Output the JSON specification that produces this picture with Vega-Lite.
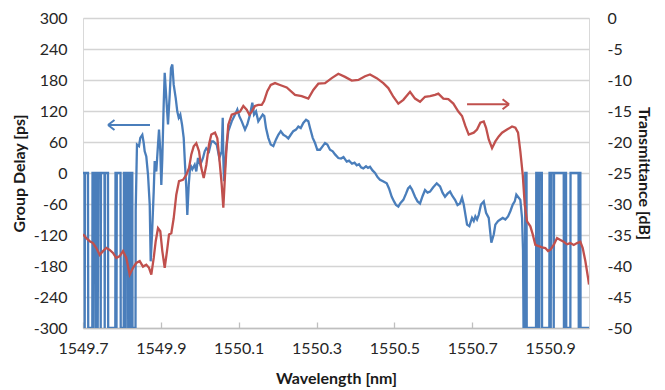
{
  "$schema": "https://vega.github.io/schema/vega-lite/v6.json",
  "width": 506,
  "height": 310,
  "autosize": {"type": "none"},
  "padding": {"left": 83, "top": 18, "right": 76, "bottom": 62},
  "background": "white",
  "config": {
    "font": "Lato",
    "view": {"stroke": "#d9d9d9", "strokeWidth": 1},
    "axis": {"labelFontSize": 16, "titleFontSize": 16, "titleFontWeight": "bold", "labelColor": "#262626", "titleColor": "#1a1a1a", "labelFlush": false, "labelOverlap": false, "labelExpr": "replace(datum.label, '−', '-')"}
  },
  "datasets": {
    "delay": [
      {"wl": 1549.7000, "gd": 0}, {"wl": 1549.7039, "gd": 0}, {"wl": 1549.7044, "gd": -300}, {"wl": 1549.7051, "gd": 0},
      {"wl": 1549.7128, "gd": 0}, {"wl": 1549.7134, "gd": -300}, {"wl": 1549.7239, "gd": -300}, {"wl": 1549.7244, "gd": 0},
      {"wl": 1549.7257, "gd": 0}, {"wl": 1549.7262, "gd": -300}, {"wl": 1549.7272, "gd": 0}, {"wl": 1549.7321, "gd": 0},
      {"wl": 1549.7326, "gd": -300}, {"wl": 1549.7334, "gd": 0}, {"wl": 1549.7373, "gd": 0}, {"wl": 1549.7378, "gd": -300},
      {"wl": 1549.7391, "gd": 0}, {"wl": 1549.7450, "gd": 0}, {"wl": 1549.7455, "gd": -300}, {"wl": 1549.7462, "gd": 0},
      {"wl": 1549.7552, "gd": 0}, {"wl": 1549.7558, "gd": -300}, {"wl": 1549.7565, "gd": 0}, {"wl": 1549.7642, "gd": 0},
      {"wl": 1549.7647, "gd": -300}, {"wl": 1549.7830, "gd": -300}, {"wl": 1549.7835, "gd": 0}, {"wl": 1549.7856, "gd": 0},
      {"wl": 1549.7861, "gd": -300}, {"wl": 1549.7868, "gd": 0}, {"wl": 1549.7964, "gd": 0}, {"wl": 1549.7969, "gd": -300},
      {"wl": 1549.8046, "gd": -300}, {"wl": 1549.8051, "gd": 0}, {"wl": 1549.8092, "gd": 0}, {"wl": 1549.8097, "gd": -300},
      {"wl": 1549.8105, "gd": 0}, {"wl": 1549.8156, "gd": 0}, {"wl": 1549.8161, "gd": -300}, {"wl": 1549.8169, "gd": 0},
      {"wl": 1549.8215, "gd": 0}, {"wl": 1549.8220, "gd": -300}, {"wl": 1549.8228, "gd": 0}, {"wl": 1549.8267, "gd": 0},
      {"wl": 1549.8272, "gd": -300}, {"wl": 1549.8349, "gd": -300},
      {"wl": 1549.8354, "gd": -71}, {"wl": 1549.8387, "gd": 55}, {"wl": 1549.8439, "gd": 52}, {"wl": 1549.8472, "gd": 68},
      {"wl": 1549.8524, "gd": 74}, {"wl": 1549.8560, "gd": 58}, {"wl": 1549.8585, "gd": 42}, {"wl": 1549.8626, "gd": 32},
      {"wl": 1549.8670, "gd": -3}, {"wl": 1549.8714, "gd": -61}, {"wl": 1549.8739, "gd": -171}, {"wl": 1549.8773, "gd": -119},
      {"wl": 1549.8817, "gd": -35}, {"wl": 1549.8842, "gd": 23}, {"wl": 1549.8883, "gd": 3}, {"wl": 1549.8927, "gd": 55},
      {"wl": 1549.8953, "gd": 84}, {"wl": 1549.8986, "gd": 42}, {"wl": 1549.9012, "gd": -23}, {"wl": 1549.9038, "gd": 29},
      {"wl": 1549.9073, "gd": 132}, {"wl": 1549.9099, "gd": 194}, {"wl": 1549.9140, "gd": 145}, {"wl": 1549.9184, "gd": 94},
      {"wl": 1549.9228, "gd": 152}, {"wl": 1549.9261, "gd": 203}, {"wl": 1549.9295, "gd": 210}, {"wl": 1549.9330, "gd": 171},
      {"wl": 1549.9382, "gd": 145}, {"wl": 1549.9423, "gd": 119}, {"wl": 1549.9459, "gd": 107}, {"wl": 1549.9500, "gd": 113},
      {"wl": 1549.9544, "gd": 94}, {"wl": 1549.9587, "gd": 68}, {"wl": 1549.9621, "gd": 16}, {"wl": 1549.9654, "gd": -29},
      {"wl": 1549.9680, "gd": -81}, {"wl": 1549.9716, "gd": -23}, {"wl": 1549.9757, "gd": 16}, {"wl": 1549.9808, "gd": 7},
      {"wl": 1549.9870, "gd": 16}, {"wl": 1549.9911, "gd": 3}, {"wl": 1549.9955, "gd": 29}, {"wl": 1550.0014, "gd": 16},
      {"wl": 1550.0083, "gd": 29}, {"wl": 1550.0127, "gd": 42}, {"wl": 1550.0168, "gd": 48}, {"wl": 1550.0237, "gd": 42},
      {"wl": 1550.0297, "gd": 61}, {"wl": 1550.0348, "gd": 61}, {"wl": 1550.0435, "gd": 55}, {"wl": 1550.0502, "gd": 29},
      {"wl": 1550.0564, "gd": 42}, {"wl": 1550.0590, "gd": 107}, {"wl": 1550.0605, "gd": 29}, {"wl": 1550.0623, "gd": -16},
      {"wl": 1550.0674, "gd": 42}, {"wl": 1550.0733, "gd": 81}, {"wl": 1550.0821, "gd": 100}, {"wl": 1550.0906, "gd": 113},
      {"wl": 1550.0965, "gd": 123}, {"wl": 1550.1016, "gd": 110}, {"wl": 1550.1078, "gd": 100}, {"wl": 1550.1162, "gd": 84},
      {"wl": 1550.1222, "gd": 94}, {"wl": 1550.1291, "gd": 113}, {"wl": 1550.1350, "gd": 136}, {"wl": 1550.1394, "gd": 113},
      {"wl": 1550.1445, "gd": 119}, {"wl": 1550.1504, "gd": 100}, {"wl": 1550.1566, "gd": 107}, {"wl": 1550.1617, "gd": 113},
      {"wl": 1550.1658, "gd": 110}, {"wl": 1550.1702, "gd": 87}, {"wl": 1550.1761, "gd": 68}, {"wl": 1550.1823, "gd": 55},
      {"wl": 1550.1890, "gd": 52}, {"wl": 1550.1959, "gd": 65}, {"wl": 1550.2018, "gd": 74}, {"wl": 1550.2080, "gd": 81},
      {"wl": 1550.2147, "gd": 74}, {"wl": 1550.2216, "gd": 71}, {"wl": 1550.2275, "gd": 67}, {"wl": 1550.2337, "gd": 74},
      {"wl": 1550.2403, "gd": 81}, {"wl": 1550.2473, "gd": 84}, {"wl": 1550.2532, "gd": 90}, {"wl": 1550.2594, "gd": 87},
      {"wl": 1550.2660, "gd": 97}, {"wl": 1550.2730, "gd": 103}, {"wl": 1550.2789, "gd": 100}, {"wl": 1550.2833, "gd": 87},
      {"wl": 1550.2902, "gd": 68}, {"wl": 1550.2961, "gd": 58}, {"wl": 1550.3020, "gd": 45}, {"wl": 1550.3089, "gd": 45},
      {"wl": 1550.3159, "gd": 52}, {"wl": 1550.3218, "gd": 58}, {"wl": 1550.3277, "gd": 55}, {"wl": 1550.3346, "gd": 45},
      {"wl": 1550.3416, "gd": 42}, {"wl": 1550.3475, "gd": 36}, {"wl": 1550.3560, "gd": 29}, {"wl": 1550.3629, "gd": 28},
      {"wl": 1550.3693, "gd": 31}, {"wl": 1550.3776, "gd": 22}, {"wl": 1550.3835, "gd": 24}, {"wl": 1550.3912, "gd": 18},
      {"wl": 1550.3976, "gd": 20}, {"wl": 1550.4033, "gd": 15}, {"wl": 1550.4092, "gd": 17}, {"wl": 1550.4143, "gd": 11},
      {"wl": 1550.4202, "gd": 9}, {"wl": 1550.4271, "gd": 13}, {"wl": 1550.4323, "gd": 10}, {"wl": 1550.4374, "gd": 12},
      {"wl": 1550.4438, "gd": 5}, {"wl": 1550.4503, "gd": 0}, {"wl": 1550.4567, "gd": -8}, {"wl": 1550.4631, "gd": -13},
      {"wl": 1550.4708, "gd": -16}, {"wl": 1550.4803, "gd": -20}, {"wl": 1550.4862, "gd": -30}, {"wl": 1550.4932, "gd": -46},
      {"wl": 1550.4991, "gd": -55}, {"wl": 1550.5042, "gd": -62}, {"wl": 1550.5101, "gd": -65}, {"wl": 1550.5158, "gd": -58},
      {"wl": 1550.5230, "gd": -52}, {"wl": 1550.5299, "gd": -40}, {"wl": 1550.5351, "gd": -30}, {"wl": 1550.5402, "gd": -26},
      {"wl": 1550.5453, "gd": -32}, {"wl": 1550.5530, "gd": -46}, {"wl": 1550.5595, "gd": -55}, {"wl": 1550.5659, "gd": -59},
      {"wl": 1550.5723, "gd": -45}, {"wl": 1550.5787, "gd": -33}, {"wl": 1550.5852, "gd": -38}, {"wl": 1550.5916, "gd": -36},
      {"wl": 1550.5993, "gd": -28}, {"wl": 1550.6088, "gd": -20}, {"wl": 1550.6173, "gd": -26}, {"wl": 1550.6237, "gd": -38},
      {"wl": 1550.6301, "gd": -46}, {"wl": 1550.6366, "gd": -40}, {"wl": 1550.6430, "gd": -36}, {"wl": 1550.6494, "gd": -45},
      {"wl": 1550.6558, "gd": -52}, {"wl": 1550.6622, "gd": -62}, {"wl": 1550.6687, "gd": -59}, {"wl": 1550.6738, "gd": -48},
      {"wl": 1550.6782, "gd": -61}, {"wl": 1550.6867, "gd": -100}, {"wl": 1550.6926, "gd": -103}, {"wl": 1550.6995, "gd": -87},
      {"wl": 1550.7039, "gd": -93}, {"wl": 1550.7080, "gd": -84}, {"wl": 1550.7123, "gd": -90}, {"wl": 1550.7167, "gd": -81},
      {"wl": 1550.7226, "gd": -61}, {"wl": 1550.7296, "gd": -55}, {"wl": 1550.7355, "gd": -77}, {"wl": 1550.7424, "gd": -87},
      {"wl": 1550.7491, "gd": -135}, {"wl": 1550.7553, "gd": -119}, {"wl": 1550.7594, "gd": -100}, {"wl": 1550.7663, "gd": -93},
      {"wl": 1550.7722, "gd": -90}, {"wl": 1550.7784, "gd": -87}, {"wl": 1550.7851, "gd": -90}, {"wl": 1550.7920, "gd": -84},
      {"wl": 1550.7979, "gd": -74}, {"wl": 1550.8041, "gd": -61}, {"wl": 1550.8092, "gd": -55}, {"wl": 1550.8133, "gd": -42},
      {"wl": 1550.8195, "gd": -48}, {"wl": 1550.8236, "gd": -52}, {"wl": 1550.8280, "gd": -87}, {"wl": 1550.8305, "gd": -150},
      {"wl": 1550.8318, "gd": -300}, {"wl": 1550.8357, "gd": -300}, {"wl": 1550.8362, "gd": 0}, {"wl": 1550.8395, "gd": 0},
      {"wl": 1550.8400, "gd": -300}, {"wl": 1550.8639, "gd": -300}, {"wl": 1550.8645, "gd": 0}, {"wl": 1550.8678, "gd": 0},
      {"wl": 1550.8683, "gd": -300}, {"wl": 1550.8691, "gd": 0}, {"wl": 1550.8717, "gd": 0}, {"wl": 1550.8722, "gd": -300},
      {"wl": 1550.8729, "gd": 0}, {"wl": 1550.8788, "gd": 0}, {"wl": 1550.8794, "gd": -300}, {"wl": 1550.8981, "gd": -300},
      {"wl": 1550.8986, "gd": 0}, {"wl": 1550.9012, "gd": 0}, {"wl": 1550.9017, "gd": -300}, {"wl": 1550.9025, "gd": 0},
      {"wl": 1550.9089, "gd": 0}, {"wl": 1550.9094, "gd": -300}, {"wl": 1550.9102, "gd": 0}, {"wl": 1550.9351, "gd": 0},
      {"wl": 1550.9356, "gd": -300}, {"wl": 1550.9364, "gd": 0}, {"wl": 1550.9410, "gd": 0}, {"wl": 1550.9415, "gd": -300},
      {"wl": 1550.9521, "gd": -300}, {"wl": 1550.9526, "gd": 0}, {"wl": 1550.9731, "gd": 0}, {"wl": 1550.9737, "gd": -300},
      {"wl": 1550.9744, "gd": 0}, {"wl": 1550.9778, "gd": 0}, {"wl": 1550.9783, "gd": -300}, {"wl": 1551.0000, "gd": -300}
    ],
    "trans": [
      {"wl": 1549.7000, "t": -34.9}, {"wl": 1549.7085, "t": -35.5}, {"wl": 1549.7172, "t": -36.0}, {"wl": 1549.7257, "t": -36.3},
      {"wl": 1549.7342, "t": -37.1}, {"wl": 1549.7429, "t": -38.2}, {"wl": 1549.7514, "t": -37.6}, {"wl": 1549.7599, "t": -37.1},
      {"wl": 1549.7686, "t": -37.4}, {"wl": 1549.7771, "t": -37.9}, {"wl": 1549.7856, "t": -38.7}, {"wl": 1549.7943, "t": -38.4},
      {"wl": 1549.8028, "t": -37.6}, {"wl": 1549.8113, "t": -38.7}, {"wl": 1549.8200, "t": -41.4}, {"wl": 1549.8285, "t": -40.3},
      {"wl": 1549.8369, "t": -39.5}, {"wl": 1549.8457, "t": -39.2}, {"wl": 1549.8542, "t": -40.1}, {"wl": 1549.8626, "t": -39.8},
      {"wl": 1549.8696, "t": -40.3}, {"wl": 1549.8755, "t": -41.4}, {"wl": 1549.8817, "t": -38.7}, {"wl": 1549.8868, "t": -36.0},
      {"wl": 1549.8927, "t": -33.9}, {"wl": 1549.8986, "t": -34.4}, {"wl": 1549.9038, "t": -37.6}, {"wl": 1549.9099, "t": -40.3},
      {"wl": 1549.9158, "t": -37.6}, {"wl": 1549.9210, "t": -34.9}, {"wl": 1549.9269, "t": -34.7}, {"wl": 1549.9330, "t": -32.3},
      {"wl": 1549.9397, "t": -28.5}, {"wl": 1549.9467, "t": -26.3}, {"wl": 1549.9569, "t": -26.1}, {"wl": 1549.9654, "t": -25.3},
      {"wl": 1549.9724, "t": -24.2}, {"wl": 1549.9783, "t": -22.0}, {"wl": 1549.9844, "t": -20.7}, {"wl": 1549.9911, "t": -20.2},
      {"wl": 1549.9981, "t": -21.5}, {"wl": 1550.0040, "t": -24.2}, {"wl": 1550.0101, "t": -25.8}, {"wl": 1550.0168, "t": -23.7},
      {"wl": 1550.0237, "t": -20.4}, {"wl": 1550.0297, "t": -18.8}, {"wl": 1550.0392, "t": -18.5}, {"wl": 1550.0451, "t": -19.4},
      {"wl": 1550.0502, "t": -22.6}, {"wl": 1550.0564, "t": -26.9}, {"wl": 1550.0605, "t": -30.6}, {"wl": 1550.0649, "t": -25.3},
      {"wl": 1550.0692, "t": -20.4}, {"wl": 1550.0733, "t": -17.2}, {"wl": 1550.0821, "t": -15.6}, {"wl": 1550.0949, "t": -15.3},
      {"wl": 1550.1034, "t": -15.1}, {"wl": 1550.1119, "t": -14.2}, {"wl": 1550.1206, "t": -14.8}, {"wl": 1550.1273, "t": -15.6},
      {"wl": 1550.1335, "t": -15.1}, {"wl": 1550.1419, "t": -14.2}, {"wl": 1550.1504, "t": -14.0}, {"wl": 1550.1592, "t": -14.0},
      {"wl": 1550.1651, "t": -13.4}, {"wl": 1550.1735, "t": -11.8}, {"wl": 1550.1823, "t": -10.8}, {"wl": 1550.1933, "t": -10.5},
      {"wl": 1550.2062, "t": -10.8}, {"wl": 1550.2234, "t": -11.2}, {"wl": 1550.2447, "t": -12.4}, {"wl": 1550.2619, "t": -12.6},
      {"wl": 1550.2789, "t": -13.0}, {"wl": 1550.2917, "t": -11.6}, {"wl": 1550.3046, "t": -10.6}, {"wl": 1550.3218, "t": -10.5},
      {"wl": 1550.3390, "t": -9.7}, {"wl": 1550.3560, "t": -9.0}, {"wl": 1550.3732, "t": -9.5}, {"wl": 1550.3904, "t": -10.1},
      {"wl": 1550.4074, "t": -10.0}, {"wl": 1550.4246, "t": -9.4}, {"wl": 1550.4374, "t": -9.1}, {"wl": 1550.4546, "t": -9.7},
      {"wl": 1550.4716, "t": -10.5}, {"wl": 1550.4844, "t": -11.3}, {"wl": 1550.4973, "t": -12.7}, {"wl": 1550.5101, "t": -13.8},
      {"wl": 1550.5230, "t": -13.2}, {"wl": 1550.5402, "t": -11.9}, {"wl": 1550.5530, "t": -13.0}, {"wl": 1550.5659, "t": -13.5},
      {"wl": 1550.5787, "t": -12.7}, {"wl": 1550.5916, "t": -12.6}, {"wl": 1550.6044, "t": -12.4}, {"wl": 1550.6129, "t": -12.2},
      {"wl": 1550.6258, "t": -13.0}, {"wl": 1550.6386, "t": -13.1}, {"wl": 1550.6515, "t": -13.8}, {"wl": 1550.6643, "t": -15.1},
      {"wl": 1550.6738, "t": -15.8}, {"wl": 1550.6823, "t": -17.4}, {"wl": 1550.6910, "t": -18.8}, {"wl": 1550.7039, "t": -18.5},
      {"wl": 1550.7123, "t": -18.0}, {"wl": 1550.7208, "t": -16.9}, {"wl": 1550.7296, "t": -16.7}, {"wl": 1550.7355, "t": -17.7},
      {"wl": 1550.7424, "t": -19.6}, {"wl": 1550.7509, "t": -21.0}, {"wl": 1550.7594, "t": -19.9}, {"wl": 1550.7681, "t": -19.1},
      {"wl": 1550.7766, "t": -18.5}, {"wl": 1550.7894, "t": -18.0}, {"wl": 1550.8023, "t": -17.5}, {"wl": 1550.8108, "t": -17.7},
      {"wl": 1550.8177, "t": -18.5}, {"wl": 1550.8236, "t": -21.5}, {"wl": 1550.8298, "t": -25.3}, {"wl": 1550.8349, "t": -30.1},
      {"wl": 1550.8408, "t": -32.8}, {"wl": 1550.8493, "t": -33.6}, {"wl": 1550.8555, "t": -34.9}, {"wl": 1550.8621, "t": -36.6},
      {"wl": 1550.8709, "t": -36.8}, {"wl": 1550.8794, "t": -37.0}, {"wl": 1550.8878, "t": -37.1}, {"wl": 1550.8948, "t": -37.6},
      {"wl": 1550.9007, "t": -37.4}, {"wl": 1550.9094, "t": -36.6}, {"wl": 1550.9179, "t": -35.5}, {"wl": 1550.9264, "t": -35.8},
      {"wl": 1550.9351, "t": -36.1}, {"wl": 1550.9436, "t": -36.5}, {"wl": 1550.9521, "t": -36.3}, {"wl": 1550.9608, "t": -36.6},
      {"wl": 1550.9693, "t": -36.3}, {"wl": 1550.9778, "t": -36.1}, {"wl": 1550.9839, "t": -37.1}, {"wl": 1550.9906, "t": -39.2},
      {"wl": 1550.9975, "t": -41.9}, {"wl": 1551.0000, "t": -43.0}
    ],
    "blueArrow": [{"wl": 1549.7642, "gd": 93}, {"wl": 1549.8721, "gd": 93}],
    "blueTip": [{"wl": 1549.7642, "gd": 93}],
    "redArrow": [{"wl": 1550.6867, "t": -13.9}, {"wl": 1550.7946, "t": -13.9}],
    "redTip": [{"wl": 1550.7946, "t": -13.9}]
  },
  "layer": [
    {
      "encoding": {
        "x": {
          "field": "wl", "type": "quantitative",
          "scale": {"domain": [1549.7, 1551.0], "nice": false, "zero": false},
          "axis": {
            "title": "Wavelength [nm]",
            "values": [1549.7, 1549.9, 1550.1, 1550.3, 1550.5, 1550.7, 1550.9],
            "format": ".1f", "grid": false,
            "domainColor": "#bfbfbf", "domainWidth": 1.3,
            "tickColor": "#bfbfbf", "tickSize": -6, "tickWidth": 1.3,
            "labelPadding": 18, "titlePadding": 14
          }
        },
        "y": {
          "field": "gd", "type": "quantitative",
          "scale": {"domain": [-300, 300], "nice": false, "zero": false},
          "axis": {
            "title": "Group Delay [ps]", "orient": "left",
            "values": [-300, -240, -180, -120, -60, 0, 60, 120, 180, 240, 300],
            "grid": true, "gridColor": "#d4d4d4", "gridWidth": 1.3,
            "domain": false, "ticks": false, "labelPadding": 16, "titlePadding": 6
          }
        }
      },
      "layer": [
        {"data": {"name": "delay"}, "mark": {"type": "line", "color": "#4a7ebb", "strokeWidth": 2.3, "clip": true}},
        {"data": {"name": "blueArrow"}, "mark": {"type": "line", "color": "#4a7ebb", "strokeWidth": 2}},
        {"data": {"name": "blueTip"}, "mark": {"type": "point", "shape": "M0,0L1.3,-1M0,0L1.3,1", "size": 100, "filled": false, "stroke": "#4a7ebb", "strokeWidth": 2, "opacity": 1}}
      ]
    },
    {
      "encoding": {
        "x": {"field": "wl", "type": "quantitative", "scale": {"domain": [1549.7, 1551.0], "nice": false, "zero": false}},
        "y": {
          "field": "t", "type": "quantitative",
          "scale": {"domain": [-50, 0], "nice": false, "zero": false},
          "axis": {
            "title": "Transmittance [dB]", "orient": "right",
            "values": [-50, -45, -40, -35, -30, -25, -20, -15, -10, -5, 0],
            "grid": false, "domain": false, "ticks": false, "labelPadding": 18, "titlePadding": 4
          }
        }
      },
      "layer": [
        {"data": {"name": "trans"}, "mark": {"type": "line", "color": "#c0504d", "strokeWidth": 2.3, "clip": true}},
        {"data": {"name": "redArrow"}, "mark": {"type": "line", "color": "#c0504d", "strokeWidth": 2}},
        {"data": {"name": "redTip"}, "mark": {"type": "point", "shape": "M0,0L-1.3,-1M0,0L-1.3,1", "size": 100, "filled": false, "stroke": "#c0504d", "strokeWidth": 2, "opacity": 1}}
      ]
    }
  ],
  "resolve": {"scale": {"y": "independent"}}
}
